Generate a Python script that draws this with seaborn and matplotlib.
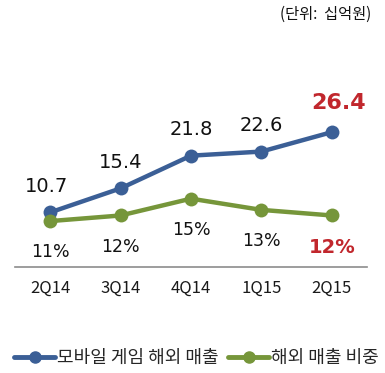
import matplotlib
matplotlib.use("Agg")
import matplotlib.pyplot as plt
import seaborn as sns
import pandas as pd
from matplotlib.lines import Line2D

quarters = ["2Q14", "3Q14", "4Q14", "1Q15", "2Q15"]
revenue = [10.7, 15.4, 21.8, 22.6, 26.4]
share = [11, 12, 15, 13, 12]
revenue_labels = ["10.7", "15.4", "21.8", "22.6", "26.4"]
share_labels = ["11%", "12%", "15%", "13%", "12%"]
series_names = ["모바일 게임 해외 매출", "해외 매출 비중"]
unit_text = "(단위:  십억원)"

sns.set_theme(style="white")
plt.rcParams['font.family'] = ['Noto Sans CJK KR', 'DejaVu Sans']

BLUE = "#3B5F96"
GREEN = "#76963A"
RED = "#C1272D"

df = pd.DataFrame({"q": quarters, "x": range(len(quarters)), "rev": revenue, "share": share})

fig = plt.figure(figsize=(3.85, 3.73), dpi=100)
ax = fig.add_axes([0.039, 0.284, 0.914, 0.448])
ax2 = ax.twinx()

sns.lineplot(data=df, x="x", y="rev", ax=ax, color=BLUE, lw=3.2, marker="o",
             markersize=10, markeredgewidth=0, zorder=3)
sns.lineplot(data=df, x="x", y="share", ax=ax2, color=GREEN, lw=3.2, marker="o",
             markersize=10, markeredgewidth=0, zorder=3)

ax.set_xlim(-0.5, 4.5)
ax.set_ylim(0, 32.7)
ax2.set_ylim(2.8, 32.6)

for a in (ax, ax2):
    a.set_yticks([])
    a.set_ylabel("")
    a.set_xlabel("")
    for s in ["top", "right", "left", "bottom"]:
        a.spines[s].set_visible(False)
ax.spines["bottom"].set_visible(True)
ax.spines["bottom"].set_color("#8C8C8C")
ax.spines["bottom"].set_linewidth(1.2)

ax.set_xticks(range(len(quarters)))
ax.set_xticklabels(quarters, fontsize=12, color="#1A1A1A")
ax.tick_params(axis="x", length=0, pad=9)

n = len(quarters)
for i, (v, lab) in enumerate(zip(revenue, revenue_labels)):
    last = i == n - 1
    ax.annotate(lab, (i, v), xytext=(5 if last else (-3 if i == 0 else 0), 14 if last else 12),
                textcoords="offset points", ha="center", va="bottom",
                fontsize=16 if last else 14, fontweight="bold" if last else "normal",
                color=RED if last else "#111111", family=["DejaVu Sans"])
for i, (v, lab) in enumerate(zip(share, share_labels)):
    last = i == n - 1
    ax2.annotate(lab, (i, v), xytext=(0, -16), textcoords="offset points",
                 ha="center", va="top",
                 fontsize=14 if last else 12.5, fontweight="bold" if last else "normal",
                 color=RED if last else "#111111", family=["DejaVu Sans"])

fig.text(0.963, 0.962, unit_text, ha="right", va="center", fontsize=11, color="#111111")

handles = [Line2D([0], [0], color=BLUE, lw=3.5, marker="o", markersize=8),
           Line2D([0], [0], color=GREEN, lw=3.5, marker="o", markersize=8)]
fig.legend(handles, series_names, loc="center", bbox_to_anchor=(0.51, 0.04), ncol=2,
           frameon=False, fontsize=13, handlelength=2.3, handletextpad=0.1,
           columnspacing=0.5, borderaxespad=0)

fig.savefig("out.png", dpi=100)
